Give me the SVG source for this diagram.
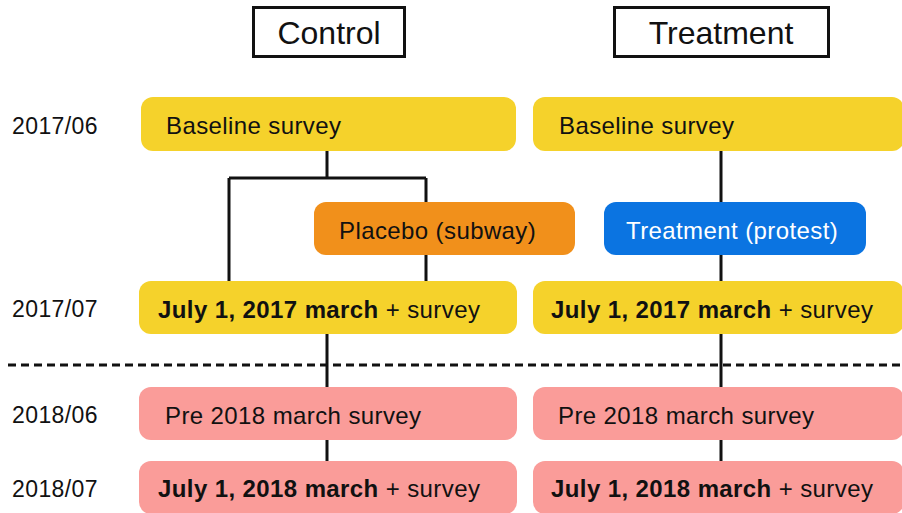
<svg xmlns="http://www.w3.org/2000/svg" width="902" height="513" viewBox="0 0 902 513">
<style>
text{font-family:"Liberation Sans",Arial,sans-serif;fill:#111}
.t{font-size:24px;letter-spacing:0.4px}
.lbl{font-size:23px;letter-spacing:0.4px}
.ttl{font-size:32px}
.b{font-weight:bold}
.yel{fill:#F5D22B}
.pink{fill:#FA9C99}
.conn{stroke:#111;stroke-width:3;fill:none}
.hdr{fill:#fff;stroke:#111;stroke-width:3}
</style>
<rect width="902" height="513" fill="#fff"/>
<g id="connectors">
<path class="conn" d="M327 151V178M229 178H426M229 178V281M426 178V281M327 334V387M327 440V461"/>
<path class="conn" d="M721 151V281M721 334V387M721 440V461"/>
<line x1="8" y1="365" x2="902" y2="365" stroke="#111" stroke-width="3" stroke-dasharray="8 5"/>
</g>
<g id="title-control"><rect class="hdr" x="253.5" y="7.5" width="151" height="49"/><text class="ttl" x="329" y="44" text-anchor="middle">Control</text></g>
<g id="title-treatment"><rect class="hdr" x="614.5" y="7.5" width="214" height="49"/><text class="ttl" x="721" y="44" text-anchor="middle">Treatment</text></g>
<g id="dates">
<text class="lbl" x="12" y="134">2017/06</text>
<text class="lbl" x="12" y="317">2017/07</text>
<text class="lbl" x="12" y="423">2018/06</text>
<text class="lbl" x="12" y="497">2018/07</text>
</g>
<g id="c-baseline"><rect class="yel" x="141" y="97" width="375" height="54" rx="12"/><text class="t" x="166" y="134">Baseline survey</text></g>
<g id="t-baseline"><rect class="yel" x="533" y="97" width="371" height="54" rx="12"/><text class="t" x="559" y="134">Baseline survey</text></g>
<g id="c-placebo"><rect fill="#F1901B" x="314" y="202" width="261" height="53" rx="12"/><text class="t" x="339" y="239">Placebo (subway)</text></g>
<g id="t-treatment"><rect fill="#0B74E1" x="604" y="202" width="262" height="53" rx="12"/><text class="t" x="626" y="239" style="fill:#fff">Treatment (protest)</text></g>
<g id="c-march2017"><rect class="yel" x="139" y="281" width="378" height="53" rx="12"/><text class="t" x="158" y="318"><tspan class="b">July 1, 2017 march</tspan> + survey</text></g>
<g id="t-march2017"><rect class="yel" x="533" y="281" width="371" height="53" rx="12"/><text class="t" x="551" y="318"><tspan class="b">July 1, 2017 march</tspan> + survey</text></g>
<g id="c-pre2018"><rect class="pink" x="139" y="387" width="378" height="53" rx="12"/><text class="t" x="165" y="424">Pre 2018 march survey</text></g>
<g id="t-pre2018"><rect class="pink" x="533" y="387" width="371" height="53" rx="12"/><text class="t" x="558" y="424">Pre 2018 march survey</text></g>
<g id="c-march2018"><rect class="pink" x="139" y="461" width="378" height="53" rx="12"/><text class="t" x="158" y="497"><tspan class="b">July 1, 2018 march</tspan> + survey</text></g>
<g id="t-march2018"><rect class="pink" x="533" y="461" width="371" height="53" rx="12"/><text class="t" x="551" y="497"><tspan class="b">July 1, 2018 march</tspan> + survey</text></g>
</svg>
